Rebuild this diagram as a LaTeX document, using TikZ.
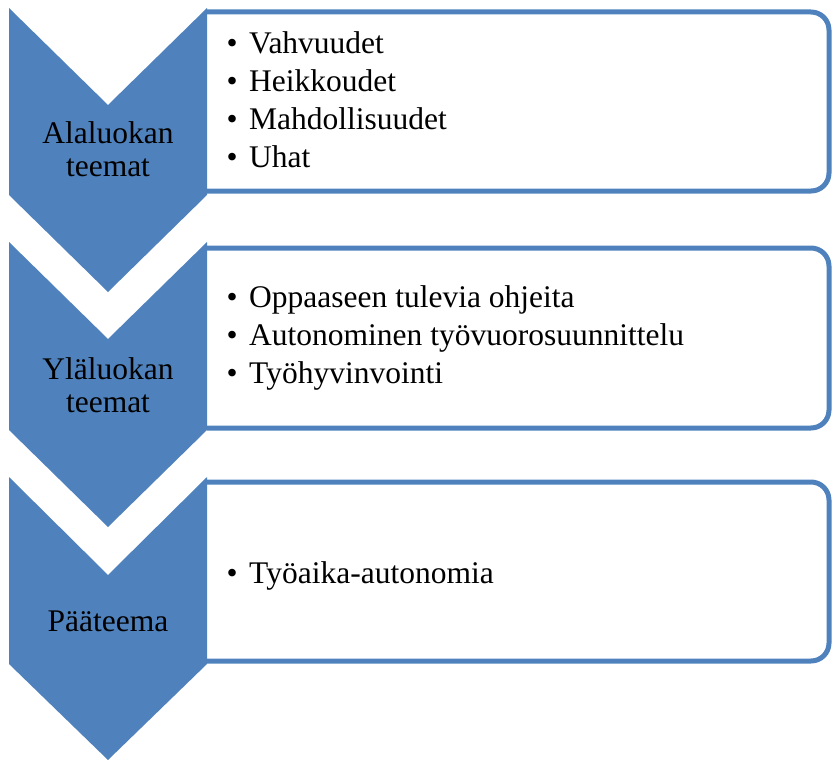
\documentclass[tikz,border=0pt]{standalone}
\usepackage{fontspec}
\setmainfont{Liberation Serif}
\definecolor{obl}{HTML}{4F81BD}
\tikzset{
  chev/.style={fill=obl, draw=none},
  panel/.style={draw=obl, line width=5pt, rounded corners=18pt},
  lbl/.style={anchor=base, align=center, inner sep=0pt, font=\fontsize{31.5}{32.5}\selectfont},
  items/.style={anchor=base west, align=left, inner sep=0pt, font=\fontsize{31.5}{38}\selectfont},
}
\newcommand{\itm}{\textbullet\hspace{11.5pt}}
\begin{document}
\begin{tikzpicture}[x=1pt,y=-1pt]
\useasboundingbox (0,0) rectangle (832,760);
% panels
\draw[panel] (207,191) -- (829,191) -- (829,12) -- (207,12);
\draw[panel] (207,428) -- (829,428) -- (829,248) -- (207,248);
\draw[panel] (207,661) -- (829,661) -- (829,482) -- (207,482);
% chevrons
\fill[chev] (9,8) -- (108,105) -- (207,8) -- (207,195) -- (108,292) -- (9,195) -- cycle;
\fill[chev] (9,242) -- (108,339) -- (207,242) -- (207,430) -- (108,527) -- (9,430) -- cycle;
\fill[chev] (9,477) -- (108,575) -- (207,477) -- (207,664) -- (108,760) -- (9,664) -- cycle;
% chevron labels (base = baseline of last line)
\node[lbl] (l1) at (108,176) {Alaluokan\\teemat};
\node[lbl] (l2) at (108,412) {Yläluokan\\teemat};
\node[lbl] (l3) at (108,631) {Pääteema};
% bullet lists (base = baseline of last line)
\node[items] (b1) at (226.5,167) {\itm Vahvuudet\\\itm Heikkoudet\\\itm Mahdollisuudet\\\itm Uhat};
\node[items] (b2) at (226.5,383) {\itm Oppaaseen tulevia ohjeita\\\itm Autonominen työvuorosuunnittelu\\\itm Työhyvinvointi};
\node[items] (b3) at (226.5,583) {\itm Työaika-autonomia};
\end{tikzpicture}
\end{document}
